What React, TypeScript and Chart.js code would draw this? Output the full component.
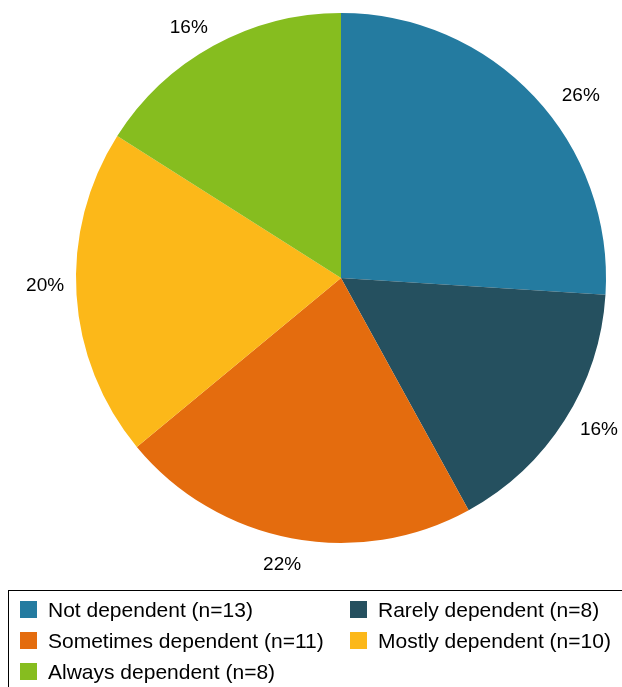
import React, { useEffect, useRef } from "react";
import { Chart, registerables } from "chart.js";

Chart.register(...registerables);

const categories = [
  "Not dependent (n=13)",
  "Rarely dependent (n=8)",
  "Sometimes dependent (n=11)",
  "Mostly dependent (n=10)",
  "Always dependent (n=8)",
];
const counts = [13, 8, 11, 10, 8];
const colors = ["#247BA0", "#25505F", "#E46C0E", "#FCB819", "#86BD1F"];
// small angular nudges (degrees) for percentage label placement
const labelAngleNudge = [6, -2, 0.8, 2, -2.5];
const labelGap = [36, 34, 28, 31, 28];

const FONT = '"Liberation Sans", Arial, sans-serif';

const pctLabels = {
  id: "pctLabels",
  afterDatasetsDraw(chart: any) {
    const ctx = chart.ctx;
    const meta = chart.getDatasetMeta(0);
    const data = chart.data.datasets[0].data as number[];
    const total = data.reduce((a, b) => a + b, 0);
    ctx.save();
    ctx.font = `19px ${FONT}`;
    ctx.fillStyle = "#000";
    ctx.textAlign = "center";
    ctx.textBaseline = "middle";
    meta.data.forEach((arc: any, i: number) => {
      const p = arc.getProps(["x", "y", "startAngle", "endAngle", "outerRadius"], true);
      const mid = (p.startAngle + p.endAngle) / 2 + (labelAngleNudge[i] * Math.PI) / 180;
      const r = p.outerRadius + labelGap[i];
      const x = p.x + Math.cos(mid) * r;
      const y = p.y + Math.sin(mid) * r;
      ctx.fillText(Math.round((data[i] / total) * 100) + "%", x, y);
    });
    ctx.restore();
  },
};

export default function App() {
  const ref = useRef<HTMLCanvasElement>(null);
  useEffect(() => {
    if (!ref.current) return;
    const chart = new Chart(ref.current, {
      type: "pie",
      data: {
        labels: categories,
        datasets: [
          {
            data: counts,
            backgroundColor: colors,
            borderWidth: 0,
          },
        ],
      },
      options: {
        animation: false,
        responsive: false,
        maintainAspectRatio: false,
        layout: { padding: { left: 76, right: 16, top: 13, bottom: 144 } },
        plugins: {
          legend: { display: false },
          tooltip: { enabled: false },
        },
      },
      plugins: [pctLabels],
    });
    return () => chart.destroy();
  }, []);

  return (
    <div style={{ position: "fixed", left: 0, top: 0, width: 622, height: 687, overflow: "hidden", background: "#fff" }}>
      <canvas ref={ref} width={622} height={687} style={{ position: "absolute", left: 0, top: 0, width: 622, height: 687 }} />
      <div
        style={{
          position: "absolute",
          left: 8,
          top: 590,
          width: 640,
          height: 120,
          border: "1px solid #000",
          boxSizing: "border-box",
          fontFamily: FONT,
          fontSize: 21,
          color: "#000",
        }}
      >
        {categories.map((c, i) => {
          const col = i % 2;
          const row = Math.floor(i / 2);
          return (
            <div
              key={c}
              style={{
                position: "absolute",
                left: col === 0 ? 11 : 341,
                top: 10 + row * 31,
                display: "flex",
                alignItems: "center",
                whiteSpace: "nowrap",
                height: 17,
              }}
            >
              <span style={{ display: "inline-block", width: 17, height: 17, background: colors[i], marginRight: 11, flex: "none" }} />
              <span>{c}</span>
            </div>
          );
        })}
      </div>
    </div>
  );
}
